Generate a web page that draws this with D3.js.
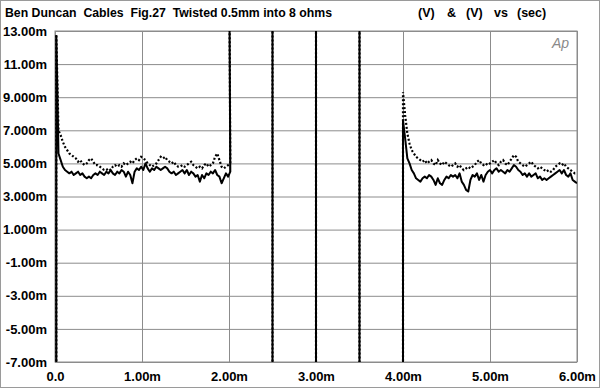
<!DOCTYPE html>
<html>
<head>
<meta charset="utf-8">
<script src="https://cdn.jsdelivr.net/npm/d3@7"></script>
<style>
  html, body { margin: 0; padding: 0; background: #fff; }
  svg { display: block; font-family: "Liberation Sans", Arial, Helvetica, sans-serif; }
</style>
</head>
<body>
<div id="chart"></div>
<script>
// sample spacing of the analyser sweep (ms)
const sampleStep = 0.025;
const segAStart = 0.015;
const segBStart = 4;

// y axis ticks (mV) and their labels
const yTicks = [13, 11, 9, 7, 5, 3, 1, -1, -3, -5, -7];
const yLabels = ['13.00m', '11.00m', '9.000m', '7.000m', '5.000m', '3.000m', '1.000m', '-1.00m', '-3.00m', '-5.00m', '-7.00m'];
// x axis ticks (ms) and labels
const xTicks = [0, 1, 2, 3, 4, 5, 6];
const xLabels = ['0.0', '1.00m', '2.00m', '3.00m', '4.00m', '5.00m', '6.00m'];

// first burst, 0 - 2 ms
const solidA = [12.7, 5.6, 5.2, 4.8, 4.6, 4.5, 4.4, 4.5, 4.3, 4.4,
  4.5, 4.3, 4.4, 4.2, 4.1, 4.2, 4.1, 4.3, 4.4, 4.3,
  4.5, 4.4, 4.3, 4.5, 4.4, 4.6, 4.4, 4.3, 4.5, 4.4,
  4.6, 4.5, 4.2, 4.5, 4.3, 3.8, 4.5, 4.7, 4.6, 4.8,
  4.6, 5.0, 4.7, 4.5, 4.7, 4.6, 4.8, 4.7, 4.6, 4.7,
  4.8, 4.7, 4.5, 4.4, 4.5, 4.3, 4.4, 4.5, 4.6, 4.4,
  4.6, 4.3, 4.5, 4.4, 4.2, 4.3, 3.9, 4.3, 4.1, 4.4,
  4.3, 4.5, 4.4, 4.6, 4.3, 4.2, 3.8, 4.1, 4.4, 4.2, 4.5];
const dottedA = [12.8, 7.0, 6.7, 6.3, 6.0, 5.8, 5.6, 5.5, 5.4, 5.3,
  5.1, 5.2, 5.0, 4.9, 5.0, 5.2, 5.3, 5.1, 4.9, 4.9,
  4.8, 4.7, 4.6, 4.6, 4.7, 4.6, 4.8, 4.9, 4.8, 4.9,
  4.8, 5.0, 4.9, 5.0, 5.1, 5.0, 5.2, 5.3, 5.2, 5.4,
  5.3, 5.2, 5.0, 4.9, 4.8, 4.9, 5.0, 5.2, 5.4, 5.3,
  5.4, 5.2, 5.1, 5.0, 5.1, 4.9, 4.8, 4.8, 4.9, 4.8,
  4.9, 5.0, 5.1, 4.9, 4.8, 4.7, 4.8, 4.7, 4.9, 5.0,
  4.8, 4.9, 5.0, 5.4, 5.6, 5.2, 4.8, 4.7, 4.8, 4.9, 5.0];

// off-scale stretch between bursts (analyser over-range)
const bridgeTimes = [2.0, 2.5, 2.5, 3.0, 3.0, 3.5, 3.5, 4.0];
const bridgeValues = [20, 20, -20, -20, 20, 20, -20, -20];

// second burst, 4 - 6 ms
const solidB = [7.6, 6.5, 5.3, 5.0, 4.6, 4.4, 4.1, 4.0, 3.9, 4.1,
  4.2, 4.1, 4.3, 4.2, 4.0, 3.7, 4.1, 3.8, 3.7, 4.0,
  4.2, 4.1, 4.3, 4.2, 4.3, 4.1, 4.4, 3.9, 3.7, 3.4,
  3.3, 4.0, 4.3, 4.2, 4.4, 4.0, 4.3, 3.9, 4.3, 4.5,
  4.6, 4.4, 4.6, 4.7, 4.5, 4.6, 4.5, 4.4, 4.6, 4.5,
  4.7, 4.9, 4.8, 4.6, 4.5, 4.3, 4.4, 4.2, 4.4, 4.2,
  4.3, 4.4, 4.1, 4.2, 4.0, 4.1, 4.0, 4.1, 4.2, 4.3,
  4.4, 4.5, 4.6, 4.4, 4.6, 4.3, 4.2, 4.4, 4.0, 3.9, 3.8];
const dottedB = [9.3, 7.9, 6.8, 6.2, 5.8, 5.6, 5.4, 5.3, 5.2, 5.1,
  5.2, 5.0, 5.1, 5.2, 5.0, 4.9, 5.2, 5.0, 4.9, 5.1,
  5.0, 4.9, 4.8, 4.9, 5.0, 4.8, 4.9, 4.7, 4.6, 4.7,
  4.8, 4.7, 4.8, 4.9, 5.1, 5.2, 5.0, 4.9, 5.0, 4.9,
  5.0, 5.1, 5.2, 5.0, 4.9, 5.1, 5.2, 5.0, 4.9, 5.1,
  5.3, 5.5, 5.4, 5.1, 5.0, 4.9, 4.8, 4.9, 5.0, 5.1,
  4.9, 4.8, 4.7, 4.8, 4.7, 4.6, 4.5, 4.6, 4.5, 4.6,
  4.8, 4.9, 5.0, 4.9, 5.0, 4.8, 4.7, 4.6, 4.5, 4.4, 4.4];

const W = 600, H = 388;
const margin = { top: 31, right: 23, bottom: 26, left: 55 };
const width = W - margin.left - margin.right;
const height = H - margin.top - margin.bottom;

const svg = d3.select('#chart').append('svg')
  .attr('width', W).attr('height', H);

// outer frame
svg.append('rect')
  .attr('x', 0.5).attr('y', 0.5)
  .attr('width', W - 1).attr('height', H - 1)
  .attr('fill', '#fff').attr('stroke', '#9a9a9a');

const g = svg.append('g')
  .attr('transform', 'translate(' + margin.left + ',' + margin.top + ')');

const x = d3.scaleLinear().domain([0, 6]).range([0, width]);
const y = d3.scaleLinear().domain([-7, 13]).range([height, 0]);

// gridlines
g.append('g')
  .attr('transform', 'translate(0,' + height + ')')
  .call(d3.axisBottom(x).tickValues(xTicks).tickSize(-height).tickFormat(''))
  .call(s => s.select('.domain').remove())
  .call(s => s.selectAll('line').attr('stroke', '#8c8c8c'));
g.append('g')
  .call(d3.axisLeft(y).tickValues(yTicks).tickSize(-width).tickFormat(''))
  .call(s => s.select('.domain').remove())
  .call(s => s.selectAll('line').attr('stroke', '#8c8c8c'));

g.append('rect')
  .attr('width', width).attr('height', height)
  .attr('fill', 'none').attr('stroke', '#8c8c8c');

// tick labels
const yAxis = g.append('g')
  .call(d3.axisLeft(y).tickValues(yTicks).tickSize(0).tickPadding(8)
    .tickFormat((d, i) => yLabels[i]));
yAxis.select('.domain').remove();
yAxis.selectAll('text')
  .attr('fill', '#000')
  .style('font-size', '13px')
  .style('font-weight', 'bold');

const xAxis = g.append('g')
  .attr('transform', 'translate(0,' + height + ')')
  .call(d3.axisBottom(x).tickValues(xTicks).tickSize(0).tickPadding(10)
    .tickFormat((d, i) => xLabels[i]));
xAxis.select('.domain').remove();
xAxis.selectAll('text')
  .attr('fill', '#000')
  .style('font-size', '13px')
  .style('font-weight', 'bold');

// traces
svg.append('clipPath').attr('id', 'plotclip')
  .append('rect').attr('width', width).attr('height', height);

function buildTrace(segA, segB) {
  const pts = [[segAStart, -20]];
  segA.forEach((v, i) => pts.push([segAStart + i * sampleStep, v]));
  bridgeTimes.forEach((t, i) => pts.push([t, bridgeValues[i]]));
  segB.forEach((v, i) => pts.push([segBStart + i * sampleStep, v]));
  return pts;
}

const line = d3.line().x(d => x(d[0])).y(d => y(d[1]));
const traces = g.append('g').attr('clip-path', 'url(#plotclip)');

traces.append('path')
  .datum(buildTrace(dottedA, dottedB))
  .attr('d', line)
  .attr('fill', 'none')
  .attr('stroke', '#000')
  .attr('stroke-width', 2.2)
  .attr('stroke-dasharray', '2,2');

traces.append('path')
  .datum(buildTrace(solidA, solidB))
  .attr('d', line)
  .attr('fill', 'none')
  .attr('stroke', '#000')
  .attr('stroke-width', 2)
  .attr('stroke-linejoin', 'round');

// header
const header = svg.append('g')
  .style('font-size', '12.5px')
  .style('font-weight', 'bold');
header.append('text')
  .attr('x', 5).attr('y', 17)
  .attr('textLength', 327).attr('lengthAdjust', 'spacingAndGlyphs')
  .attr('xml:space', 'preserve')
  .style('white-space', 'pre')
  .text('Ben Duncan  Cables  Fig.27  Twisted 0.5mm into 8 ohms');
const headerRight = [['(V)', 418], ['&', 447], ['(V)', 466], ['vs', 494], ['(sec)', 517]];
headerRight.forEach(d => {
  header.append('text').attr('x', d[1]).attr('y', 17).text(d[0]);
});

// analyser logo
svg.append('text')
  .attr('x', 569).attr('y', 48)
  .attr('text-anchor', 'end')
  .style('font-size', '14px')
  .style('font-style', 'italic')
  .style('font-weight', '300')
  .attr('fill', '#8a8a8a')
  .text('Ap');
</script>
</body>
</html>
